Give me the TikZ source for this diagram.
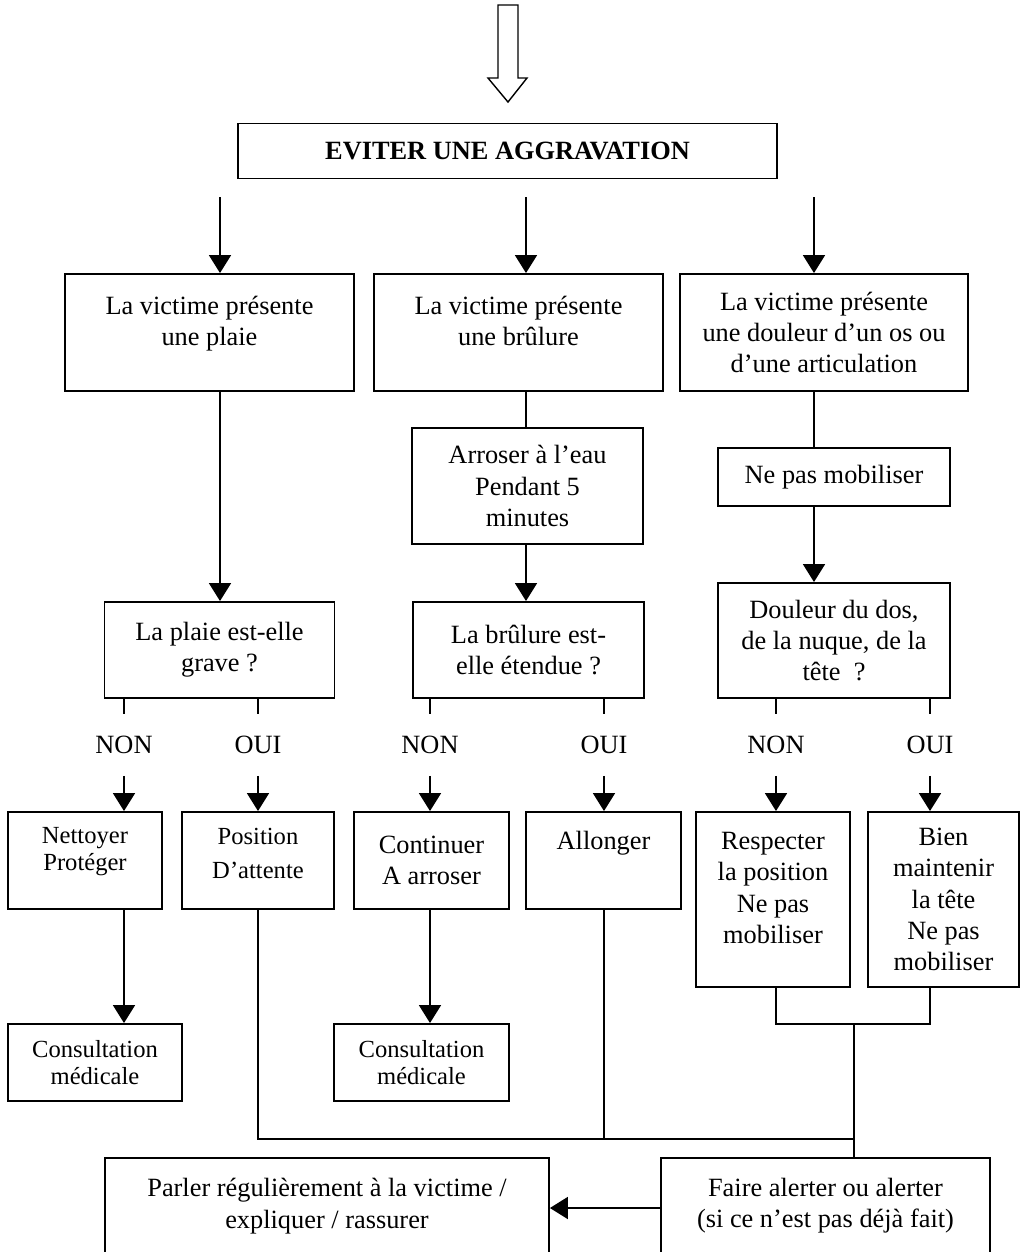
\documentclass[tikz,border=0pt]{standalone}
\usepackage{fontspec}
\setmainfont{Liberation Serif}
\usetikzlibrary{arrows.meta}

\begin{document}
\begin{tikzpicture}[x=0.02cm, y=-0.02cm, line width=1.1pt, font=\fontsize{15}{17.8}\selectfont]
    \tikzset{box/.style={draw, rectangle, align=center, inner sep=0pt},
             small/.style={font=\fontsize{14}{15.5}\selectfont},
             answer/.style={inner sep=0pt, minimum height=1.2cm},
             arr/.style={-{Triangle[width=0.44cm,length=0.36cm]}}}

    % page frame, lower boxes run off the bottom
    \useasboundingbox (0,0) rectangle (1023,1252);
    \clip (0,0) rectangle (1023,1252);

    % Hollow arrow on top
    \draw[line width=0.8pt] (498,5) -- (518,5) -- (518,78) -- (527,78) -- (508,102)
        -- (488,78) -- (498,78) -- cycle;

    % Title
    \node[box, minimum width=10.78cm, minimum height=1.1cm] (goal) at (507.5, 151) {\textbf{EVITER UNE AGGRAVATION}};

    % Level 1 - the three cases
    \coordinate (s1) at (220, 197);
    \coordinate (s2) at (526, 197);
    \coordinate (s3) at (814, 197);
    \node[box, minimum width=5.78cm, minimum height=2.34cm] (plaie) at (209.5, 332.5) {La victime présente\\une plaie\\[-10pt]\strut};
    \node[box, minimum width=5.78cm, minimum height=2.34cm] (brulure) at (518.5, 332.5) {La victime présente\\une brûlure\\[-10pt]\strut};
    \node[box, minimum width=5.76cm, minimum height=2.34cm] (os) at (824, 332.5) {La victime présente\\une douleur d’un os ou\\d’une articulation};
    \draw[arr] (s1) -- (s1 |- plaie.north);
    \draw[arr] (s2) -- (s2 |- brulure.north);
    \draw[arr] (s3) -- (s3 |- os.north);

    % First actions
    \node[box, minimum width=4.62cm, minimum height=2.32cm] (arroser) at (527.5, 486) {Arroser à l’eau\\Pendant 5\\minutes};
    \node[box, minimum width=4.64cm, minimum height=1.16cm] (nepas) at (834, 477) {Ne pas mobiliser};
    \draw (s2 |- brulure.south) -- (s2 |- arroser.north);
    \draw (s3 |- os.south) -- (s3 |- nepas.north);

    % Level 2 - questions
    \node[box, minimum width=4.6cm, minimum height=1.92cm] (qplaie) at (219.5, 650) {La plaie est-elle\\grave ?};
    \node[box, minimum width=4.62cm, minimum height=1.92cm] (qbrulure) at (528.5, 650) {La brûlure est-\\elle étendue ?};
    \node[box, minimum width=4.64cm, minimum height=2.3cm] (qdos) at (834, 640.5) {Douleur du dos,\\de la nuque, de la\\tête~~?};
    \draw[arr] (s1 |- plaie.south) -- (s1 |- qplaie.north);
    \draw[arr] (s2 |- arroser.south) -- (s2 |- qbrulure.north);
    \draw[arr] (s3 |- nepas.south) -- (s3 |- qdos.north);

    % Answers
    \node[answer] (n1) at (124, 745) {NON};
    \node[answer] (n2) at (258, 745) {OUI};
    \node[answer] (n3) at (430, 745) {NON};
    \node[answer] (n4) at (604, 745) {OUI};
    \node[answer] (n5) at (776, 745) {NON};
    \node[answer] (n6) at (930, 745) {OUI};
    \draw (n1 |- qplaie.south) -- (n1.north);
    \draw (n2 |- qplaie.south) -- (n2.north);
    \draw (n3 |- qbrulure.south) -- (n3.north);
    \draw (n4 |- qbrulure.south) -- (n4.north);
    \draw (n5 |- qdos.south) -- (n5.north);
    \draw (n6 |- qdos.south) -- (n6.north);

    % Level 3 - what to do
    \node[box, small, minimum width=3.08cm, minimum height=1.94cm] (nettoyer) at (85, 860.5) {Nettoyer\\Protéger\\[-7pt]\strut};
    \node[box, small, minimum width=3.04cm, minimum height=1.94cm] (position) at (258, 860.5) {Position\\[4pt]D’attente\\[-12pt]\strut};
    \node[box, minimum width=3.1cm, minimum height=1.94cm] (continuer) at (431.5, 860.5) {Continuer\\A arroser};
    \node[box, minimum width=3.1cm, minimum height=1.94cm] (allonger) at (603.5, 860.5) {Allonger\\\strut};
    \node[box, minimum width=3.08cm, minimum height=3.5cm] (respecter) at (773, 899.5) {Respecter\\la position\\Ne pas\\mobiliser\\[-10pt]\strut};
    \node[box, minimum width=3.02cm, minimum height=3.5cm] (bien) at (943.5, 899.5) {Bien\\maintenir\\la tête\\Ne pas\\mobiliser};
    \draw[arr] (n1.south) -- (n1 |- nettoyer.north);
    \draw[arr] (n2.south) -- (n2 |- position.north);
    \draw[arr] (n3.south) -- (n3 |- continuer.north);
    \draw[arr] (n4.south) -- (n4 |- allonger.north);
    \draw[arr] (n5.south) -- (n5 |- respecter.north);
    \draw[arr] (n6.south) -- (n6 |- bien.north);

    % Consultations
    \node[box, small, minimum width=3.48cm, minimum height=1.54cm] (consultA) at (95, 1062.5) {Consultation\\médicale};
    \node[box, small, minimum width=3.5cm, minimum height=1.54cm] (consultB) at (421.5, 1062.5) {Consultation\\médicale};
    \draw[arr] (n1 |- nettoyer.south) -- (n1 |- consultA.north);
    \draw[arr] (n3 |- continuer.south) -- (n3 |- consultB.north);

    % Bottom - always
    \node[box, minimum width=8.88cm, minimum height=2.48cm] (parler) at (327, 1220) {Parler régulièrement à la victime /\\expliquer / rassurer\\[-4pt]\strut};
    \node[box, minimum width=6.58cm, minimum height=2.48cm] (faire) at (825.5, 1220) {Faire alerter ou alerter\\(si ce n’est pas déjà fait)\\[-4pt]\strut};

    % Gathering lines
    \coordinate (j1) at (854, 1024);
    \coordinate (j2) at (854, 1139);
    \draw (n5 |- respecter.south) -- (n5 |- j1) -- (n6 |- j1) -- (n6 |- bien.south);
    \draw (j1) -- (j1 |- faire.north);
    \draw (n2 |- position.south) -- (n2 |- j2) -- (j2);
    \draw (n4 |- allonger.south) -- (n4 |- j2);
    \draw[arr] ([yshift=0.24cm]faire.west) -- ([yshift=0.24cm]parler.east);

\end{tikzpicture}
\end{document}
